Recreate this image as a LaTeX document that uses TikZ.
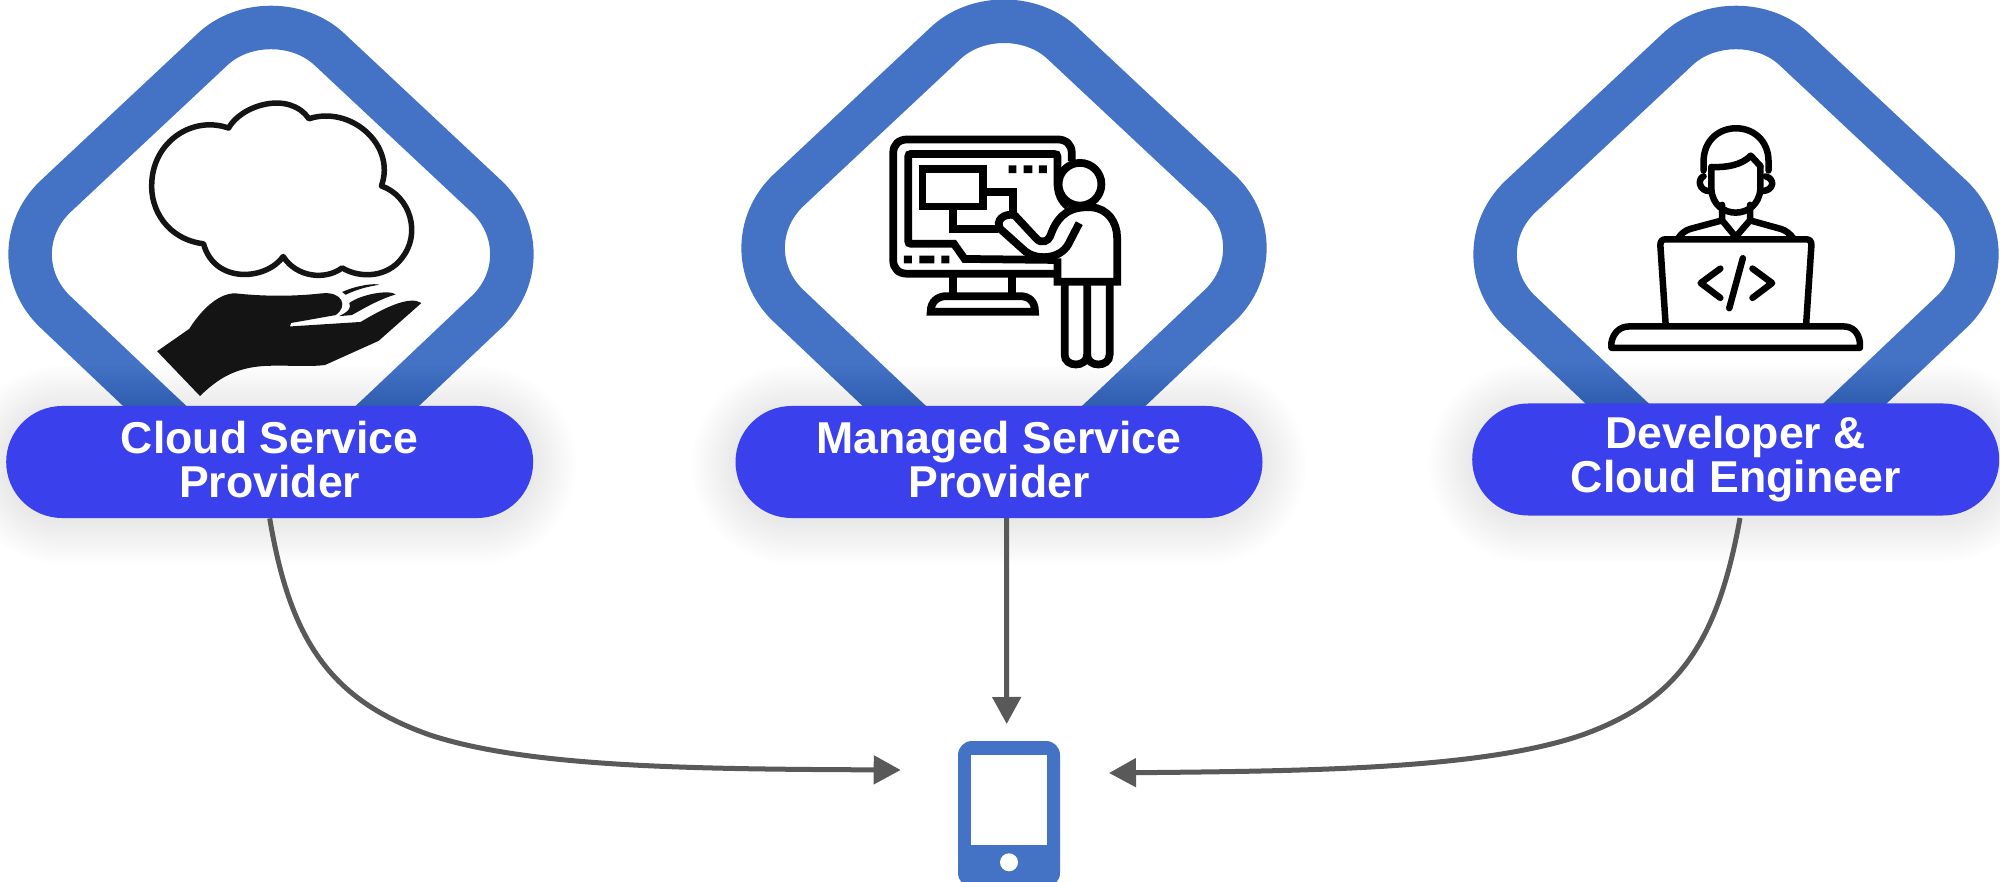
\documentclass[tikz,border=0pt]{standalone}
\usepackage{fontspec}
\setmainfont{Liberation Sans}
\usetikzlibrary{arrows.meta,calc}
\definecolor{band}{HTML}{4472C4}
\definecolor{pillc}{HTML}{3A41EC}
\definecolor{linec}{HTML}{595959}
\definecolor{handc}{HTML}{141414}
\newcommand{\lift}{\rule[-3pt]{0pt}{3pt}}
\tikzset{
  bandline/.style={draw=band,line width=8.7mm,line join=round},
  pill/.style={fill=pillc,text=white,minimum width=105.4mm,minimum height=22.4mm,rounded corners=11.2mm,inner sep=0pt,align=center,font=\fontsize{25.4}{25}\selectfont\bfseries},
  conn/.style={draw=linec,line width=1mm,-{Triangle[length=5.4mm,width=5.6mm]}},
  cloudline/.style={draw=handc,line width=1.1mm,line join=round},
  iconA/.style={draw=black,line width=1.55mm,line join=miter},
  iconB/.style={draw=black,line width=1.3mm,line join=round,line cap=round},
}
\newcommand{\diamondband}[2]{%
  \begin{scope}[shift={(#1,#2)}]
  \draw[bandline] (-60,204) -- (-116,151.5) -- (-217,55.8)
    .. controls (-249,24) and (-249,-26) .. (-216,-57.9)
    -- (-59,-204.9)
    .. controls (-28,-234.8) and (28,-234.8) .. (59,-204.9)
    -- (216,-57.9)
    .. controls (249,-26) and (249,24) .. (217,55.8)
    -- (116,151.5) -- (60,204);
  \end{scope}}
\newcommand{\softshadow}[4]{%
  \foreach \d in {2,4,...,44}{
    \fill[black,opacity=0.0045,rounded corners={(56+\d)*0.2mm}]
      (#1-\d,#2-\d+3) rectangle (#3+\d,#4+\d+3);
  }}
\begin{document}
\begin{tikzpicture}[x=0.2mm,y=-0.2mm]
\useasboundingbox (0,0) rectangle (2000,882);
\fill[white] (0,0) rectangle (2000,882);
% bands
\diamondband{271}{254.8}
\diamondband{1004}{248.6}
\diamondband{1736}{254.8}
% shadows
\softshadow{6.4}{406}{533}{518}
\softshadow{735}{406}{1263}{517.6}
\softshadow{1472}{403.6}{1999.5}{515.5}
% pills
\node[pill] (p1) at (269.7,462) {Cloud Service\\Provider\lift};
\node[pill] (p2) at (999,462) {Managed Service\\Provider\lift};
\node[pill] (p3) at (1735.7,459.5) {Developer \&\\Cloud Engineer};
% tablet
\node[fill=band,minimum width=20.4mm,minimum height=29.2mm,rounded corners=2.8mm,inner sep=0pt] (tablet) at (1009,814) {};
\node[fill=white,minimum width=15.1mm,minimum height=17.95mm,inner sep=0pt] (screen) at (1009,800.2) {};
\node[fill=white,circle,minimum size=3.6mm,inner sep=0pt] (button) at (1009,862.3) {};
% connectors
\coordinate (s1) at (p1.south);
\coordinate (s2) at (1006.5,518);
\coordinate (s3) at (1740,518);
\coordinate (t1) at (900.7,770);
\coordinate (t2) at (1006.7,724);
\coordinate (t3) at (1109,773);
\draw[conn] (s1) .. controls (290,640) and (330,700) .. (430,735) .. controls (530,768) and (700,769) .. (t1);
\draw[conn] (s2) -- (t2);
\draw[conn] (s3) .. controls (1718,640) and (1680,700) .. (1582,735) .. controls (1480,770) and (1300,771) .. (t3);
% cloud and hand
\begin{scope}[x=0.2mm/2.8,y=-0.2mm/2.904]
\draw[cloudline] (640,372) .. controls (675,305) and (810,262) .. (865,345)
  .. controls (980,305) and (1110,420) .. (1068,540)
  .. controls (1150,570) and (1180,680) .. (1125,750)
  .. controls (1085,805) and (1010,810) .. (958,778)
  .. controls (910,815) and (830,805) .. (793,745)
  .. controls (745,815) and (600,825) .. (570,708)
  .. controls (470,695) and (420,610) .. (425,530)
  .. controls (430,410) and (540,335) .. (640,372) -- cycle;
\fill[handc] (440,1020) -- (530,955) .. controls (560,905) and (610,850) .. (660,852)
  .. controls (750,862) and (830,860) .. (900,852)
  .. controls (960,845) and (975,890) .. (940,915)
  -- (815,938) -- (812,948) -- (1010,935)
  .. controls (1090,885) and (1150,860) .. (1180,880)
  -- (1060,990) -- (910,1060)
  .. controls (850,1068) and (760,1055) .. (700,1068)
  .. controls (640,1080) and (600,1110) .. (560,1150) -- cycle;
\fill[handc] (978,880) .. controls (1010,855) and (1090,840) .. (1108,855)
  .. controls (1060,870) and (1020,895) .. (985,915) -- (950,918) .. controls (975,905) and (985,895) .. (978,880) -- cycle;
\fill[handc] (958,848) .. controls (1000,828) and (1050,822) .. (1062,827)
  .. controls (1030,832) and (1000,840) .. (968,856) -- cycle;
\end{scope}
% monitor icon
\begin{scope}[shift={(720,0)},x=0.2mm/2.8,y=-0.2mm/2.904]
\draw[iconA] (985,468) -- (985,445) .. controls (985,420) and (970,405) .. (945,405) -- (525,405)
  .. controls (500,405) and (485,420) .. (485,445) -- (485,755)
  .. controls (485,780) and (500,795) .. (525,795) -- (945,795);
\draw[iconA] (945,755) -- (685,752) -- (655,708) -- (535,708)
  .. controls (530,708) and (527,705) .. (527,700) -- (527,455)
  .. controls (527,450) and (530,447) .. (535,447) -- (935,447)
  .. controls (942,447) and (945,450) .. (945,455) -- (945,530)
  .. controls (945,560) and (955,585) .. (975,600);
\draw[iconA] (567,490) rectangle (737,600);
\draw[iconA] (737,557) -- (820,557) -- (820,625);
\draw[iconA] (652,600) -- (652,665) -- (778,665);
\fill (808,480) rectangle (830,503) (850,480) rectangle (875,503) (893,480) rectangle (915,503);
\fill (515,742) rectangle (537,765) (558,742) rectangle (600,765) (620,742) rectangle (642,765);
\draw[iconA] (1008,535) ellipse [x radius=60,y radius=62];
\draw[iconA] (825,625) -- (885,692) .. controls (900,710) and (920,700) .. (925,685)
  .. controls (940,640) and (965,605) .. (1020,602) -- (1040,602)
  .. controls (1085,605) and (1112,645) .. (1112,690) -- (1112,818) -- (945,818) -- (945,750);
\draw[iconA] (1006,648) -- (975,710) .. controls (950,755) and (885,755) .. (855,730) -- (785,665)
  .. controls (770,640) and (795,618) .. (825,625);
\draw[iconA] (965,818) -- (965,1030) .. controls (965,1068) and (1028,1068) .. (1028,1030) -- (1028,818);
\draw[iconA] (1028,1030) .. controls (1028,1068) and (1091,1068) .. (1091,1030) -- (1091,818);
\draw[iconA] (652,795) -- (652,860);
\draw[iconA] (818,795) -- (818,860);
\draw[iconA] (590,905) .. controls (590,875) and (610,860) .. (635,860) -- (840,860)
  .. controls (865,860) and (882,875) .. (882,905) -- cycle;
\end{scope}
% developer icon
\begin{scope}[shift={(1440,0)},x=0.2mm/2.8,y=-0.2mm/2.904]
\draw[iconB] (738,495) -- (738,470) .. controls (738,340) and (920,340) .. (920,470) -- (920,495);
\draw[iconB] (760,485) .. controls (800,487) and (845,480) .. (870,452) -- (897,482);
\draw[iconB] (760,485) -- (760,550) .. controls (765,640) and (890,640) .. (897,550) -- (897,482);
\draw[iconB] (738,512) .. controls (720,520) and (725,555) .. (755,555);
\draw[iconB] (912,512) .. controls (940,520) and (935,555) .. (900,555);
\draw[iconB] (790,595) -- (790,640) -- (828,688) -- (868,640) -- (868,595);
\draw[iconB] (790,640) -- (700,665) .. controls (685,670) and (675,680) .. (668,690);
\draw[iconB] (868,640) -- (955,665) .. controls (970,670) and (980,680) .. (988,690);
\draw[iconB] (632,945) -- (617,712) .. controls (617,700) and (622,695) .. (632,695) -- (1025,695)
  .. controls (1035,695) and (1040,700) .. (1040,712) -- (1025,945);
\draw[iconB] (785,780) -- (730,822) -- (785,865);
\draw[iconB] (875,780) -- (930,822) -- (875,865);
\draw[iconB] (848,750) -- (810,895);
\draw[iconB] (480,1010) -- (480,995) .. controls (485,965) and (505,948) .. (530,948) -- (1130,948)
  .. controls (1155,948) and (1172,965) .. (1176,995) -- (1176,1010) -- cycle;
\end{scope}
\end{tikzpicture}
\end{document}
